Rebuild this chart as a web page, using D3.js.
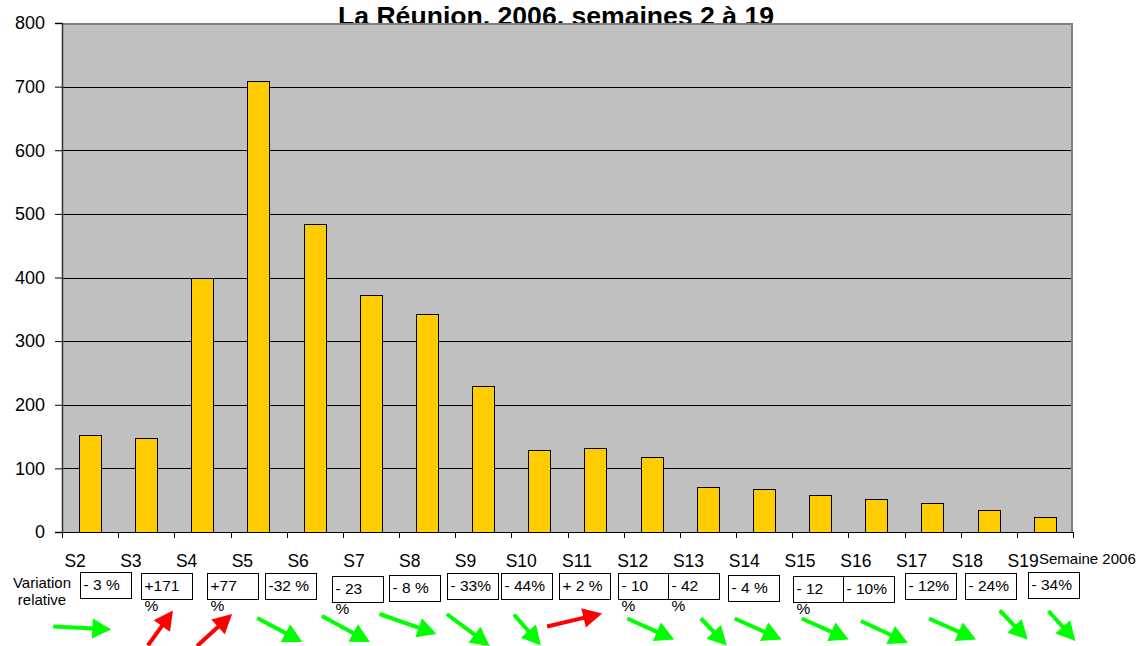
<!DOCTYPE html>
<html>
<head>
<meta charset="utf-8">
<script src="https://cdn.jsdelivr.net/npm/d3@7/dist/d3.min.js"></script>
<style>
  body { margin: 0; background: white; }
  svg { display: block; font-family: Arial, "Liberation Sans", sans-serif; }
</style>
</head>
<body>
<svg id="chart" width="1148" height="646"></svg>
<script>
// Data
var weeks = ["S2", "S3", "S4", "S5", "S6", "S7", "S8", "S9", "S10", "S11", "S12", "S13", "S14", "S15", "S16", "S17", "S18", "S19"];
var cases = [153, 148, 400, 709, 484, 373, 343, 229, 129, 132, 118, 70, 67, 58, 52, 46, 35, 23];
// relative variation from previous week (S3..S19), '|' = line break as in the original
var variation = [-3, 171, 77, -32, -23, -8, -33, -44, 2, -10, -42, -4, -12, -10, -12, -24, -34];
var variationLabels = ["- 3 %", "+171|%", "+77|%", "-32 %", "- 23|%", "- 8 %", "- 33%", "- 44%", "+ 2 %", "- 10|%", "- 42|%", "- 4 %", "- 12|%", "- 10%", "- 12%", "- 24%", "- 34%"];
var yTicks = [0, 100, 200, 300, 400, 500, 600, 700, 800];

// Colours
var plotFill = '#C0C0C0';
var plotBorder = '#808080';
var barColour = '#FFCC00';
var upColour = '#FF0000';
var downColour = '#00FF00';
var textColour = 'black';

// Layout
var plotLeft = 62, plotTop = 23, plotRight = 1073, plotBottom = 532;
var boxWidth = 51, boxHeight = 26;
// box offset (left edge from the target week's bar centre, top)
var boxNudge = [[-66, 572], [-61, 573], [-52, 573], [-50, 573], [-39, 576], [-38, 575], [-36, 573], [-38, 573], [-37, 573],
                [-34, 573], [-40, 573], [-36, 575], [-27, 576], [-33, 576], [-28, 573], [-24, 573], [-17, 572]];
// arrow: mid x offset from target bar centre, mid y, vector x, vector y
var arrowShape = [[-64, 628, 58, 3], [-42, 628, 25, -35], [-44, 630, 35, -32], [-35, 630, 45, 24], [-25, 629, 48, 26],
                  [-19, 624, 57, 20], [-15, 630, 43, 32], [-12, 630, 27, 31], [-21, 620, 55, -13], [-1, 629, 47, 21],
                  [6, 632, 26, 27], [-6, 629, 47, 21], [5, 629, 47, 21], [8, 632, 47, 22], [20, 629, 47, 21],
                  [25, 625, 28, 29], [17, 626, 27, 30]];

var svg = d3.select("#chart");

var x = d3.scaleBand()
  .domain(weeks)
  .range([plotLeft, plotRight])
  .paddingInner(0.6)
  .paddingOuter(0.3);

var y = d3.scaleLinear()
  .domain([0, 800])
  .range([plotBottom, plotTop]);

function centre(w) {
  return x(w) + x.bandwidth() / 2;
}

// Title (plot area is drawn over its lower part, as in the original)
svg.append("text")
  .attr("x", 556)
  .attr("y", 25)
  .attr("text-anchor", "middle")
  .attr("font-size", 26)
  .attr("font-weight", "bold")
  .attr("textLength", 436)
  .attr("lengthAdjust", "spacingAndGlyphs")
  .attr("fill", textColour)
  .text("La Réunion, 2006, semaines 2 à 19");

// Plot area
svg.append("rect")
  .attr("x", plotLeft)
  .attr("y", plotTop)
  .attr("width", plotRight - plotLeft)
  .attr("height", plotBottom - plotTop)
  .attr("fill", plotFill);

svg.append("path")
  .attr("d", "M" + plotLeft + "," + (plotTop + 1) + "H" + (plotRight - 1) + "V" + plotBottom)
  .attr("fill", "none")
  .attr("stroke", plotBorder)
  .attr("stroke-width", 2);

// Grid lines
svg.selectAll("line.grid")
  .data(yTicks.filter(function (d) { return d > 0 && d < 800; }))
  .enter().append("line")
  .attr("class", "grid")
  .attr("x1", plotLeft)
  .attr("x2", plotRight - 2)
  .attr("y1", function (d) { return Math.round(y(d)) + 0.5; })
  .attr("y2", function (d) { return Math.round(y(d)) + 0.5; })
  .attr("stroke", "black")
  .attr("stroke-width", 1);

// Bars
svg.selectAll("rect.bar")
  .data(cases)
  .enter().append("rect")
  .attr("class", "bar")
  .attr("x", function (d, i) { return Math.round(x(weeks[i])) + 0.5; })
  .attr("y", function (d) { return Math.round(y(d)) + 0.5; })
  .attr("width", Math.round(x.bandwidth()))
  .attr("height", function (d) { return Math.round(y(0)) - Math.round(y(d)); })
  .attr("fill", barColour)
  .attr("stroke", "black")
  .attr("stroke-width", 1);

// Y axis
var yAxis = svg.append("g")
  .attr("transform", "translate(" + plotLeft + ",0)")
  .call(d3.axisLeft(y).tickValues(yTicks).tickSize(7).tickPadding(10));
yAxis.select(".domain").attr("stroke", "#333").attr("stroke-width", 1.5);
yAxis.selectAll(".tick text")
  .attr("font-size", 18)
  .attr("font-family", "Arial, 'Liberation Sans', sans-serif")
  .attr("fill", textColour);

// X axis line and ticks at category boundaries
svg.append("line")
  .attr("x1", plotLeft)
  .attr("x2", plotRight)
  .attr("y1", plotBottom + 0.5)
  .attr("y2", plotBottom + 0.5)
  .attr("stroke", "black");

var step = x.step();
svg.selectAll("line.xtick")
  .data(d3.range(weeks.length + 1))
  .enter().append("line")
  .attr("class", "xtick")
  .attr("x1", function (i) { return Math.round(plotLeft + i * step) + 0.5; })
  .attr("x2", function (i) { return Math.round(plotLeft + i * step) + 0.5; })
  .attr("y1", plotBottom)
  .attr("y2", plotBottom + 6)
  .attr("stroke", "black");

// Week labels
svg.selectAll("text.week")
  .data(weeks)
  .enter().append("text")
  .attr("class", "week")
  .attr("x", function (w, i) { return centre(w) - 15 - 0.4 * i; })
  .attr("y", 567)
  .attr("text-anchor", "middle")
  .attr("font-size", 17.5)
  .attr("fill", textColour)
  .text(function (w) { return w; });

svg.append("text")
  .attr("x", 1039)
  .attr("y", 564)
  .attr("font-size", 15)
  .attr("fill", textColour)
  .text("Semaine 2006");

// "Variation relative"
svg.append("text")
  .attr("x", 42)
  .attr("y", 588)
  .attr("text-anchor", "middle")
  .attr("font-size", 15)
  .attr("fill", textColour)
  .text("Variation");
svg.append("text")
  .attr("x", 42)
  .attr("y", 605)
  .attr("text-anchor", "middle")
  .attr("font-size", 15)
  .attr("fill", textColour)
  .text("relative");

// Variation boxes
var boxes = svg.selectAll("g.box")
  .data(variationLabels)
  .enter().append("g")
  .attr("class", "box")
  .attr("transform", function (d, i) {
    var bx = Math.round(centre(weeks[i + 1]) + boxNudge[i][0]) + 0.5;
    return "translate(" + bx + "," + (boxNudge[i][1] + 0.5) + ")";
  });

boxes.append("rect")
  .attr("width", boxWidth)
  .attr("height", boxHeight)
  .attr("fill", "white")
  .attr("stroke", "black")
  .attr("stroke-width", 1);

boxes.append("text")
  .attr("font-size", 15.5)
  .attr("fill", textColour)
  .each(function (d) {
    var arr = d.split('|');
    var t = d3.select(this);
    arr.forEach(function (line, k) {
      t.append("tspan")
        .attr("x", 3)
        .attr("y", 17 + k * 20)
        .text(line);
    });
  });

// Arrows: red when the week rose, green when it fell
svg.selectAll("g.arrow")
  .data(variation)
  .enter().append("g")
  .attr("class", "arrow")
  .each(function (v, i) {
    var a = arrowShape[i];
    var mx = centre(weeks[i + 1]) + a[0], my = a[1];
    var x0 = mx - a[2] / 2, y0 = my - a[3] / 2;
    var x1 = mx + a[2] / 2, y1 = my + a[3] / 2;
    var len = Math.sqrt(a[2] * a[2] + a[3] * a[3]);
    var ux = a[2] / len, uy = a[3] / len;
    var head = 19, half = 10;
    var bx = x1 - ux * head, by = y1 - uy * head;
    var colour = v > 0 ? upColour : downColour;
    var g = d3.select(this);
    g.append("line")
      .attr("x1", x0).attr("y1", y0)
      .attr("x2", bx + ux * 2).attr("y2", by + uy * 2)
      .attr("stroke", colour)
      .attr("stroke-width", 4);
    g.append("path")
      .attr("d", "M" + x1 + "," + y1 +
                 "L" + (bx - uy * half) + "," + (by + ux * half) +
                 "L" + (bx + uy * half) + "," + (by - ux * half) + "Z")
      .attr("fill", colour);
  });
</script>
</body>
</html>
